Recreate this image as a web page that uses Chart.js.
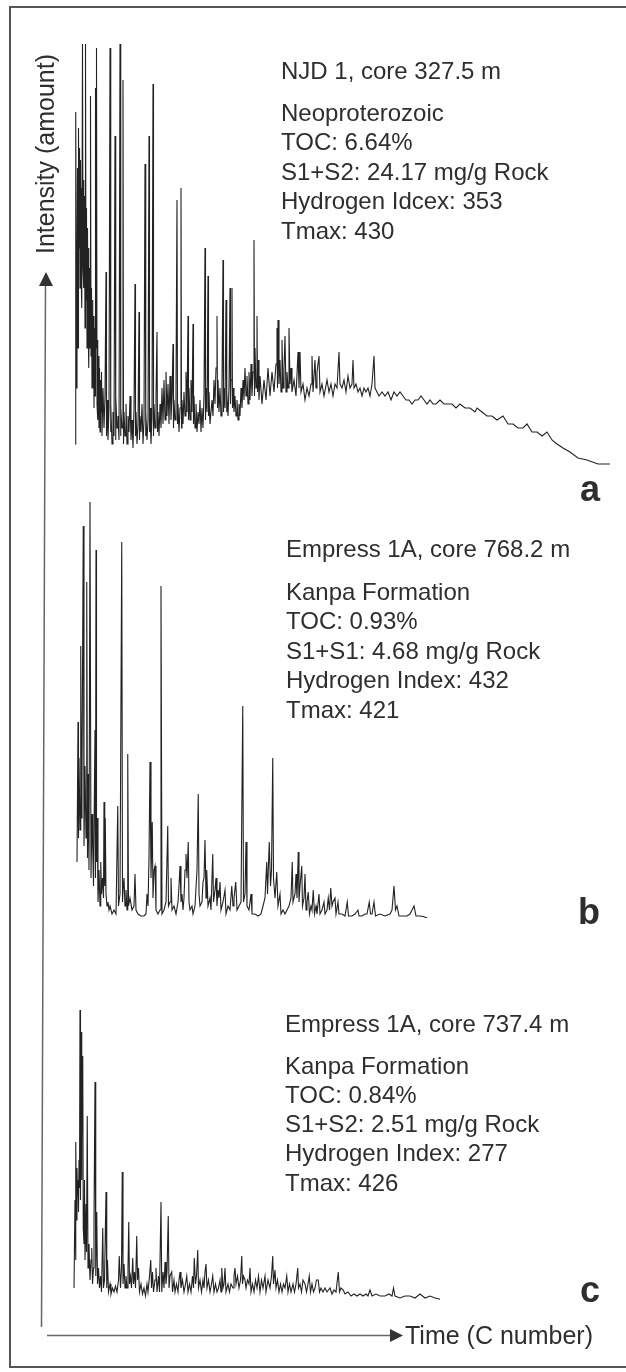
<!DOCTYPE html>
<html>
<head>
<meta charset="utf-8">
<script src="https://cdn.jsdelivr.net/npm/chart.js@4.4.1/dist/chart.umd.min.js"></script>
<style>
  html, body { margin: 0; padding: 0; background: #fff; }
  #page { position: relative; width: 626px; height: 1372px; overflow: hidden; font-family: "Liberation Sans", Arial, Helvetica, sans-serif; color: #2e2e2e; }
  canvas { position: absolute; }
  .txt { position: absolute; font-size: 24px; line-height: 30px; white-space: nowrap; }
  .tag { position: absolute; font-size: 36px; line-height: 40px; font-weight: bold; width: 60px; text-align: right; }
  .axis { position: absolute; font-size: 25px; line-height: 30px; white-space: nowrap; }
  svg { position: absolute; left: 0; top: 0; }
</style>
</head>
<body>
<div id="page">
  <canvas id="chartA" width="545" height="426" style="left:70px; top:42px;"></canvas>
  <canvas id="chartB" width="545" height="418" style="left:70px; top:500px;"></canvas>
  <canvas id="chartC" width="545" height="290" style="left:70px; top:1010px;"></canvas>
  <svg width="626" height="1372">
    <path d="M626,7 L10,7 L10,1367 L626,1367" fill="none" stroke="#555" stroke-width="2"/>
    <line x1="45.5" y1="284" x2="41.5" y2="1327" stroke="#666" stroke-width="1.5"/>
    <polygon points="46,272 39,286 53,286" fill="#333"/>
    <line x1="47" y1="1335.5" x2="392" y2="1335.5" stroke="#666" stroke-width="1.5"/>
    <polygon points="403,1335.5 390,1329 390,1342" fill="#333"/>
  </svg>
  <div id="labels"></div>
</div>
<script>
// retention position (arbitrary time units) and detector response
const traceA = [[1.0,6],[1.1,60],[1.2,89],[1.3,20],[1.4,42],[1.5,75],[1.6,30],[1.7,85],[1.8,55],[1.9,80],[2.0,45],[2.1,77],[2.2,50],[2.3,70],[2.4,40],[2.5,106],[2.6,50],[2.7,72],[2.8,45],[2.9,68],[3.0,35],[3.1,106],[3.2,42],[3.3,65],[3.4,30],[3.5,60],[3.6,38],[3.7,55],[3.8,25],[3.9,50],[4.0,30],[4.1,93],[4.2,28],[4.3,45],[4.4,20],[4.5,42],[4.6,22],[4.7,38],[4.8,15],[4.9,35],[5.0,18],[5.1,95],[5.2,30],[5.3,105],[5.4,16],[5.5,32],[5.6,12],[5.7,28],[5.8,10],[5.9,25],[6.0,9],[6.1,22],[6.2,14],[6.3,24],[6.4,8],[6.6,20],[6.8,10],[7.0,18],[7.2,49],[7.3,8],[7.4,17],[7.6,7],[7.8,15],[8.0,105],[8.1,9],[8.2,16],[8.4,6],[8.6,14],[8.8,8],[9.0,83],[9.1,7],[9.2,18],[9.4,10],[9.6,13],[9.8,7],[10.0,106],[10.1,8],[10.2,15],[10.4,10],[10.6,97],[10.7,6],[10.8,14],[11.0,8],[11.2,16],[11.4,6],[11.6,13],[11.8,9],[12.0,18],[12.2,7],[12.4,12],[12.6,5],[12.8,15],[13.0,46],[13.1,8],[13.2,14],[13.4,6],[13.6,11],[13.8,39],[13.9,7],[14.0,13],[14.2,9],[14.4,16],[14.6,6],[14.8,12],[15.0,76],[15.1,8],[15.2,14],[15.4,7],[15.6,12],[15.8,83],[15.9,9],[16.0,15],[16.2,6],[16.4,13],[16.6,96],[16.7,8],[16.8,16],[17.0,10],[17.2,18],[17.4,34],[17.5,9],[17.6,14],[17.8,8],[18.0,16],[18.2,10],[18.4,20],[18.6,11],[18.8,22],[19.0,12],[19.2,24],[19.4,13],[19.6,21],[19.8,11],[20.0,23],[20.2,12],[20.4,18],[20.6,31],[20.7,10],[20.8,17],[21.0,12],[21.2,20],[21.4,67],[21.5,11],[21.6,16],[21.8,9],[22.0,15],[22.2,70],[22.3,10],[22.4,17],[22.6,11],[22.8,19],[23.0,13],[23.2,24],[23.4,14],[23.6,38],[23.7,12],[23.8,20],[24.0,12],[24.2,22],[24.4,14],[24.6,36],[24.7,11],[24.8,18],[25.0,10],[25.2,16],[25.4,9],[25.6,14],[25.8,11],[26.0,17],[26.2,9],[26.4,15],[26.6,10],[26.8,18],[27.0,55],[27.1,12],[27.2,20],[27.4,14],[27.6,48],[27.7,13],[27.8,19],[28.0,11],[28.4,17],[28.6,13],[28.8,22],[29.0,16],[29.2,25],[29.4,38],[29.5,15],[29.6,22],[29.8,14],[30.0,20],[30.2,13],[30.4,21],[30.6,52],[30.7,14],[30.8,20],[31.0,15],[31.2,42],[31.3,14],[31.4,19],[31.6,13],[31.8,20],[32.0,45],[32.1,16],[32.2,22],[32.4,45],[32.5,15],[32.6,20],[32.8,14],[33.0,18],[33.2,13],[33.4,17],[33.6,12],[33.8,16],[34.0,13],[34.2,20],[34.4,15],[34.6,22],[34.8,17],[35.0,25],[35.2,18],[35.4,23],[35.6,16],[35.8,24],[36.0,17],[36.2,26],[36.4,18],[36.6,24],[36.8,57],[36.9,18],[37.0,30],[37.2,20],[37.4,38],[37.5,19],[37.6,27],[37.8,17],[38.0,23],[38.4,16],[38.8,22],[39.2,17],[39.6,25],[40.0,18],[40.4,24],[40.8,19],[41.2,26],[41.4,35],[41.5,20],[41.6,37],[41.8,21],[42.0,27],[42.2,19],[42.4,32],[42.6,20],[42.8,25],[43.0,33],[43.2,19],[43.4,24],[43.6,20],[43.8,35],[44.0,21],[44.2,25],[44.4,19],[44.8,22],[45.2,18],[45.6,29],[45.8,20],[46.0,29],[46.2,19],[46.6,21],[47.0,17],[47.4,20],[47.8,18],[48.2,21],[48.4,28],[48.6,19],[49.0,27],[49.2,20],[49.4,24],[49.8,28],[50.0,19],[50.4,21],[50.8,18],[51.4,22],[51.8,19],[52.2,21],[52.6,18],[53.0,21],[53.4,20],[53.8,29],[54.0,21],[54.4,20],[54.8,22],[55.2,19],[55.6,23],[56.0,20],[56.4,21],[56.6,27],[56.8,20],[57.2,21],[57.6,19],[58.0,20],[58.4,18],[58.8,20],[59.2,19],[59.6,20],[60.0,18],[60.4,21],[60.8,28],[61.0,20],[61.4,19],[61.8,18],[62.4,19],[63.0,18],[63.6,19],[64.2,17],[64.8,19],[65.4,18],[66.0,19],[66.6,18],[67.2,17],[67.8,17],[68.4,16],[69.0,17],[69.6,17],[70.2,18],[70.8,17],[71.4,16],[72.0,17],[72.6,16],[73.2,16],[74.0,17],[74.8,16],[75.6,16],[76.4,16],[77.2,15],[78.0,16],[79.0,15],[80.0,15],[81.0,14],[81.4,15],[82.4,14],[83.4,13],[84.4,13],[85.4,12],[86.6,13],[87.6,11],[88.6,11],[89.6,10],[90.6,10],[91.4,11],[92.4,9],[93.4,9],[94.4,8],[95.4,9],[96.4,7],[97.4,6],[98.6,5],[100.0,4],[101.6,2.5],[103.4,2],[105.6,1],[108.0,1]];

const traceB = [[1.4,14],[1.6,49],[1.7,20],[1.8,40],[2.0,22],[2.15,68],[2.3,25],[2.4,35],[2.65,98],[2.8,18],[3.0,38],[3.2,20],[3.35,84],[3.5,15],[3.6,36],[3.8,12],[4.0,104],[4.2,10],[4.4,26],[4.55,17],[4.7,8],[5.0,47],[5.1,10],[5.2,92],[5.3,14],[5.45,25],[5.6,4],[5.8,12],[6.0,3],[6.15,14],[6.3,6],[6.5,10],[6.7,5],[6.8,29],[6.95,8],[7.05,25],[7.2,6],[7.4,3],[7.6,4],[7.8,2],[8.0,3],[8.4,1],[8.8,2],[9.2,1],[9.55,28],[9.7,3],[10.0,6],[10.35,94],[10.5,4],[10.65,8],[10.8,10],[11.0,3],[11.2,7],[11.4,2],[11.55,41],[11.7,3],[12.0,5],[12.4,2],[12.8,3],[13.0,11],[13.2,2],[13.6,1],[14.2,0.5],[14.8,0.5],[15.2,1],[15.4,6],[15.6,3],[15.8,15],[16.0,39],[16.2,10],[16.45,24],[16.6,5],[16.8,12],[17.0,13],[17.2,2],[17.6,1],[18.0,2],[18.2,83],[18.4,1],[18.8,2],[19.2,4],[19.55,23],[19.7,3],[20.0,4],[20.2,10],[20.4,2],[20.8,3],[21.2,1],[21.6,4],[21.8,8],[22.0,13],[22.2,4],[22.4,6],[22.6,2],[22.8,5],[23.0,12],[23.2,16],[23.4,10],[23.65,19],[23.8,4],[24.0,2],[24.4,3],[24.6,1],[25.0,3],[25.4,12],[25.65,31],[25.8,6],[26.0,3],[26.4,4],[26.6,9],[26.8,10],[27.0,19.5],[27.2,5],[27.35,12],[27.6,3],[28.0,5],[28.2,2],[28.55,16],[28.7,4],[29.0,7],[29.2,10],[29.4,3],[29.6,7],[29.8,5],[30.0,9],[30.2,2],[30.6,4],[31.0,7],[31.2,1],[31.6,3],[32.0,2],[32.35,8],[32.6,3],[32.8,5],[33.15,9],[33.4,2],[33.8,3],[34.2,4],[34.55,53],[34.7,4],[35.0,6],[35.2,19],[35.4,3],[35.8,2],[36.2,6],[36.4,1],[37.0,1],[37.6,0.5],[38.2,1],[38.6,3],[39.0,5],[39.35,14],[39.5,6],[39.85,19],[40.1,8],[40.3,12],[40.55,40],[40.7,10],[41.0,5],[41.35,11.5],[41.6,3],[42.0,6],[42.2,1],[42.6,2],[43.0,1],[43.4,2],[43.8,3],[44.2,5],[44.45,14],[44.6,4],[45.0,6],[45.2,11],[45.4,5],[45.65,16.5],[45.8,4],[46.0,8],[46.35,13],[46.5,3],[46.8,5],[47.0,11],[47.2,2],[47.4,4],[47.65,6.5],[47.9,1],[48.2,3],[48.4,2],[48.65,7],[48.9,1],[49.2,3],[49.4,1],[49.8,6],[50.0,1],[50.4,2],[50.8,4],[51.0,1],[51.4,2],[51.65,5],[51.9,2],[52.15,7.5],[52.4,3],[52.6,4],[53.0,5],[53.2,1],[53.6,4],[53.8,1],[54.4,1],[55.0,0.5],[55.45,4],[55.7,0.5],[56.4,0.5],[57.0,1],[57.6,2],[57.8,0.5],[58.4,0.5],[59.0,1],[59.4,1],[59.85,4],[60.1,1],[60.4,1],[60.8,4],[61.1,0.5],[62.0,1],[63.0,0.5],[64.0,1],[64.4,2],[64.8,8],[65.1,2],[65.4,3],[65.8,0.5],[66.6,0.5],[67.4,0.5],[68.0,1],[68.4,2],[68.8,3],[69.2,0.5],[70.0,0.5],[70.8,0.3],[71.4,0]];

const traceC = [[0.8,3],[1.0,25],[1.1,10],[1.2,39.5],[1.3,20],[1.4,33],[1.5,26],[1.6,30],[1.7,22],[1.8,35],[1.9,28],[2.0,72.5],[2.1,25],[2.2,67],[2.3,30],[2.4,40],[2.55,61],[2.65,18],[2.8,14],[2.9,30],[3.0,10],[3.2,24],[3.3,12],[3.45,46],[3.6,8],[3.8,14],[4.0,5],[4.2,10],[4.35,13],[4.5,4],[4.7,8],[4.8,20],[5.0,54.5],[5.15,6],[5.35,22],[5.5,4],[5.7,8],[5.9,3],[6.1,6],[6.3,2],[6.55,18],[6.7,3],[6.9,5],[7.2,27],[7.35,3],[7.5,10],[7.7,2],[8.0,4],[8.2,1.5],[8.5,3],[8.8,2],[9.1,3.5],[9.4,2],[9.7,5],[9.85,11],[10.1,3],[10.3,8],[10.45,32],[10.6,4],[10.8,9],[11.0,3],[11.2,6],[11.4,3],[11.6,8],[11.75,19.5],[11.9,4],[12.1,6],[12.3,3],[12.55,10.5],[12.7,4],[12.9,7],[13.1,3],[13.35,16],[13.5,5],[13.7,8],[13.9,2],[14.2,4],[14.5,1.5],[14.8,3],[15.1,1],[15.4,4],[15.6,2],[15.9,6],[16.15,10],[16.3,3],[16.5,7],[16.7,2],[17.0,5],[17.2,8],[17.4,2],[17.7,6],[17.9,2],[18.2,24.5],[18.35,2],[18.6,7],[18.8,3],[19.0,9.5],[19.2,4],[19.4,7],[19.65,21],[19.8,3],[20.0,6],[20.35,7],[20.5,2],[20.8,5],[21.0,2],[21.3,4],[21.6,2],[21.8,5],[22.0,7],[22.2,3],[22.5,5],[22.8,2],[23.1,4],[23.35,6],[23.6,2],[23.9,4],[24.2,2],[24.5,6],[24.7,3],[24.85,10.5],[25.1,4],[25.3,6],[25.55,12.5],[25.7,3],[26.0,5],[26.3,2],[26.6,5],[26.8,3],[27.0,7],[27.2,9],[27.4,3],[27.7,5],[28.0,2],[28.3,4],[28.55,6],[28.8,2],[29.1,4],[29.4,2],[29.7,3],[30.0,5],[30.2,2],[30.35,8],[30.6,3],[30.8,4],[31.0,8],[31.2,2],[31.6,4],[31.9,2],[32.2,4],[32.6,3],[32.8,6],[33.0,8],[33.2,4],[33.5,6],[33.8,3],[34.1,5],[34.35,11],[34.5,4],[34.7,6],[35.0,5],[35.2,3],[35.5,5],[35.8,4],[36.0,8],[36.2,2],[36.5,4],[36.8,2],[37.1,5],[37.4,3],[37.7,6],[38.0,2],[38.3,5],[38.6,3],[39.0,6],[39.2,2],[39.6,5],[40.0,3],[40.3,6],[40.55,11],[40.7,4],[41.0,7.5],[41.2,3],[41.5,5],[41.8,2],[42.1,4],[42.4,2],[42.7,4],[43.0,3],[43.35,6],[43.6,2],[43.9,4],[44.2,2],[44.6,4],[44.9,2],[45.2,4],[45.55,8],[45.7,3],[46.0,4],[46.3,2],[46.6,5],[47.0,4],[47.3,2],[47.6,4],[47.85,6],[48.1,2],[48.4,4],[48.7,2],[49.0,3],[49.3,5],[49.65,5],[49.9,2],[50.2,3],[50.6,2],[51.0,3],[51.4,2],[52.0,3],[52.4,1.5],[52.8,2.5],[53.2,2],[53.65,7],[53.9,2],[54.2,3],[54.65,2.5],[55.0,1.5],[55.6,2],[56.2,1],[56.8,1.5],[57.4,1],[58.0,1.5],[58.6,1],[59.2,1.5],[59.6,1],[60.0,2.5],[60.4,1],[61.2,1.5],[62.0,1],[63.0,1],[63.8,1.5],[64.4,1],[64.7,3],[65.0,1],[66.0,0.5],[67.0,1],[68.0,1],[69.0,0.5],[70.0,1.5],[71.0,0.5],[72.0,1],[73.0,0.5],[74.0,0.2]];

// full-scale response of each panel (traces are normalised separately)
const yMaxes = [106.5, 104.5, 72.5];
const timeMax = 109;

const panelTags = ['a', 'b', 'c'];
const infoA = ['NJD 1, core 327.5 m', 'Neoproterozoic', 'TOC: 6.64%', 'S1+S2: 24.17 mg/g Rock', 'Hydrogen Idcex: 353', 'Tmax: 430'];
const infoB = ['Empress 1A, core 768.2 m', 'Kanpa Formation', 'TOC: 0.93%', 'S1+S1: 4.68 mg/g Rock', 'Hydrogen Index: 432', 'Tmax: 421'];
const infoC = ['Empress 1A, core 737.4 m', 'Kanpa Formation', 'TOC: 0.84%', 'S1+S2: 2.51 mg/g Rock', 'Hydrogen Index: 277', 'Tmax: 426'];
const axisLabels = ['Intensity (amount)', 'Time (C number)'];

(function() {

    var makeTrace = function(id, trace, yMax) {
        new Chart(document.getElementById(id).getContext('2d'), {
            type: 'line',
            data: {
                datasets: [{
                    data: trace.map(function(p) { return { x: p[0], y: p[1] }; }),
                    borderColor: '#222',
                    borderWidth: 1.1,
                    pointRadius: 0,
                    tension: 0,
                    fill: false,
                    clip: 4
                }]
            },
            options: {
                responsive: false,
                animation: false,
                devicePixelRatio: 1,
                layout: { padding: 0 },
                plugins: { legend: { display: false }, tooltip: { enabled: false } },
                scales: {
                    x: { type: 'linear', min: 0, max: timeMax, display: false },
                    y: { min: 0, max: yMax, display: false }
                }
            }
        });
    };

    makeTrace('chartA', traceA, yMaxes[0]);
    makeTrace('chartB', traceB, yMaxes[1]);
    makeTrace('chartC', traceC, yMaxes[2]);

    // text blocks: left edge and baseline of every line
    var holder = document.getElementById('labels');
    var addText = function(cls, text, left, top) {
        var d = document.createElement('div');
        d.className = cls;
        d.textContent = text;
        d.style.left = left + 'px';
        d.style.top = top + 'px';
        holder.appendChild(d);
        return d;
    };

    var blocks = [
        { lines: infoA, left: 281, base: [79, 121, 150, 180, 209, 239] },
        { lines: infoB, left: 286, base: [557, 600, 629, 659, 688, 718] },
        { lines: infoC, left: 285, base: [1032, 1074, 1103, 1132, 1161, 1191] }
    ];
    blocks.forEach(function(b) {
        b.lines.forEach(function(t, i) {
            addText('txt', t, b.left, b.base[i] - 23);
        });
    });

    var tagBase = [502, 925, 1303];
    panelTags.forEach(function(t, i) {
        addText('tag', t, 540, tagBase[i] - 33);
    });

    var yl = addText('axis', axisLabels[0], -75, 139);
    yl.style.width = '240px';
    yl.style.textAlign = 'center';
    yl.style.transform = 'rotate(-90deg)';

    addText('axis', axisLabels[1], 405, 1320);

})();
</script>
</body>
</html>
